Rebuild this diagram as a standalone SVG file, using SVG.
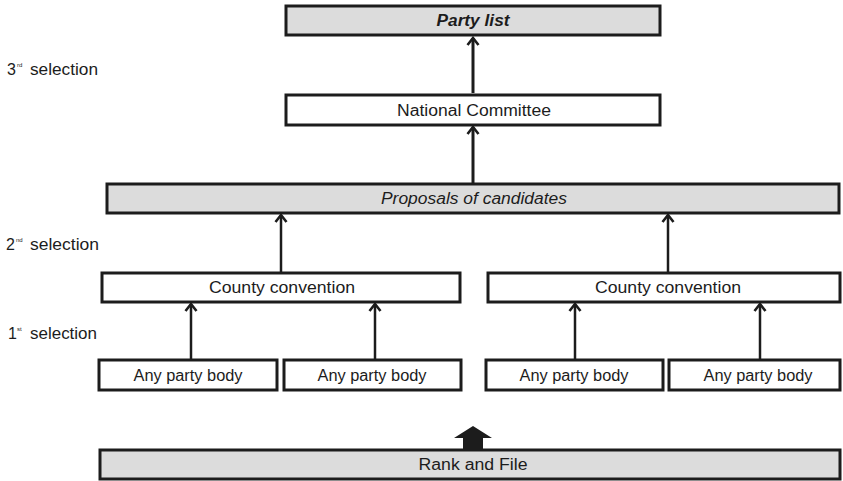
<svg xmlns="http://www.w3.org/2000/svg" width="843" height="481" viewBox="0 0 843 481">
  <style>
    .box { stroke: #1c1c1c; stroke-width: 3; }
    .white { fill: #ffffff; }
    .grey { fill: #dcdcdc; }
    .t { font-family: "Liberation Sans", Arial, sans-serif; font-size: 16px; fill: #1c1c1c; text-anchor: middle; }
    .lbl { font-family: "Liberation Sans", Arial, sans-serif; font-size: 16px; fill: #1c1c1c; }
    .sup { font-family: "Liberation Sans", Arial, sans-serif; font-size: 6px; fill: #1c1c1c; }
    .conn { stroke: #1c1c1c; fill: none; }
    .thick { stroke-width: 3; }
    .thin { stroke-width: 2.5; }
  </style>
  <defs>
    <marker id="head" viewBox="-10 -8 12 16" markerWidth="12" markerHeight="16" refX="0" refY="0" orient="auto" markerUnits="userSpaceOnUse">
      <path d="M-7,-5.5 L0,0 L-7,5.5" fill="none" stroke="#1c1c1c" stroke-width="2.6"/>
    </marker>
  </defs>

  <rect width="843" height="481" fill="#ffffff"/>

  <!-- level labels -->
  <g id="labels">
    <text class="lbl" x="7" y="75">3</text>
    <text class="sup" x="17" y="67">rd</text>
    <text class="lbl" x="30" y="75" textLength="68" lengthAdjust="spacingAndGlyphs">selection</text>

    <text class="lbl" x="6" y="250">2</text>
    <text class="sup" x="16" y="242">nd</text>
    <text class="lbl" x="30" y="250" textLength="69" lengthAdjust="spacingAndGlyphs">selection</text>

    <text class="lbl" x="8" y="339">1</text>
    <text class="sup" x="17" y="331">st</text>
    <text class="lbl" x="30" y="339" textLength="67" lengthAdjust="spacingAndGlyphs">selection</text>
  </g>

  <g id="party-list">
    <rect class="box grey" x="286" y="6" width="374" height="29"/>
    <text class="t" x="473" y="26" font-weight="bold" font-style="italic" textLength="73" lengthAdjust="spacingAndGlyphs">Party list</text>
  </g>

  <g id="national-committee">
    <rect class="box white" x="286" y="95" width="374" height="30"/>
    <text class="t" x="474" y="116" textLength="154" lengthAdjust="spacingAndGlyphs">National Committee</text>
  </g>

  <g id="proposals">
    <rect class="box grey" x="107" y="184" width="732" height="29"/>
    <text class="t" x="474" y="204" font-style="italic" textLength="186" lengthAdjust="spacingAndGlyphs">Proposals of candidates</text>
  </g>

  <g id="county-1">
    <rect class="box white" x="102" y="273" width="358" height="29"/>
    <text class="t" x="282" y="293" textLength="146" lengthAdjust="spacingAndGlyphs">County convention</text>
  </g>
  <g id="county-2">
    <rect class="box white" x="488" y="273" width="352" height="29"/>
    <text class="t" x="668" y="293" textLength="146" lengthAdjust="spacingAndGlyphs">County convention</text>
  </g>

  <g id="body-1">
    <rect class="box white" x="99" y="360" width="178" height="30"/>
    <text class="t" x="188" y="381" textLength="109" lengthAdjust="spacingAndGlyphs">Any party body</text>
  </g>
  <g id="body-2">
    <rect class="box white" x="284" y="360" width="177" height="30"/>
    <text class="t" x="372" y="381" textLength="109" lengthAdjust="spacingAndGlyphs">Any party body</text>
  </g>
  <g id="body-3">
    <rect class="box white" x="486" y="360" width="177" height="30"/>
    <text class="t" x="574" y="381" textLength="109" lengthAdjust="spacingAndGlyphs">Any party body</text>
  </g>
  <g id="body-4">
    <rect class="box white" x="669" y="360" width="171" height="30"/>
    <text class="t" x="758" y="381" textLength="109" lengthAdjust="spacingAndGlyphs">Any party body</text>
  </g>

  <g id="rank-and-file">
    <rect class="box grey" x="100" y="450" width="740" height="29"/>
    <text class="t" x="473" y="470" textLength="109" lengthAdjust="spacingAndGlyphs">Rank and File</text>
  </g>

  <g id="connectors">
    <line class="conn thick" x1="473" y1="93" x2="473" y2="38" marker-end="url(#head)"/>
    <line class="conn thick" x1="473" y1="183" x2="473" y2="127" marker-end="url(#head)"/>
    <line class="conn thin" x1="281" y1="272" x2="281" y2="215" marker-end="url(#head)"/>
    <line class="conn thin" x1="668" y1="272" x2="668" y2="215" marker-end="url(#head)"/>
    <line class="conn thin" x1="191" y1="359" x2="191" y2="304" marker-end="url(#head)"/>
    <line class="conn thin" x1="375" y1="359" x2="375" y2="304" marker-end="url(#head)"/>
    <line class="conn thin" x1="575" y1="359" x2="575" y2="304" marker-end="url(#head)"/>
    <line class="conn thin" x1="760" y1="359" x2="760" y2="304" marker-end="url(#head)"/>
    <polygon points="473,426 492,438 483,438 483,449 463,449 463,438 454,438" fill="#1c1c1c"/>
  </g>
</svg>
